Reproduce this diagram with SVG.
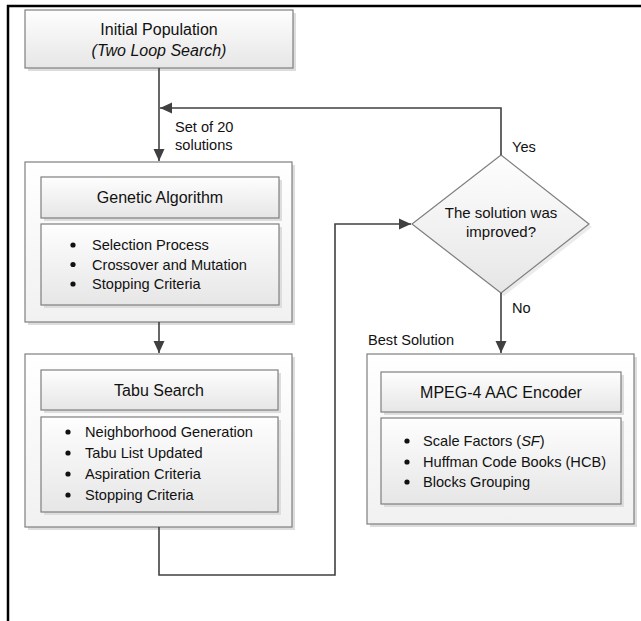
<svg xmlns="http://www.w3.org/2000/svg" width="641" height="621" viewBox="0 0 641 621">
<style>
  text { font-family: "Liberation Sans", Arial, sans-serif; fill: #111; }
  .h { font-size: 16px; text-anchor: middle; }
  .l { font-size: 14.6px; }
  .c { font-size: 15px; text-anchor: middle; }
  .outer { fill: url(#gOuter); stroke: #7f7f7f; stroke-width: 1.2; }
  .inner { fill: url(#gInner); stroke: #7f7f7f; stroke-width: 1.2; }
  .shadow { fill: #dddddd; }
  .conn { fill: none; stroke: #404040; stroke-width: 1.6; }
  .dot { fill: #111; }
</style>
<defs>
  <linearGradient id="gOuter" x1="0" y1="0" x2="0" y2="1">
    <stop offset="0" stop-color="#ffffff"/>
    <stop offset="1" stop-color="#f1f1f1"/>
  </linearGradient>
  <linearGradient id="gInner" x1="0" y1="0" x2="0" y2="1">
    <stop offset="0" stop-color="#fefefe"/>
    <stop offset="1" stop-color="#e6e6e6"/>
  </linearGradient>
  <marker id="arr" markerUnits="userSpaceOnUse" markerWidth="14" markerHeight="14" viewBox="0 0 14 14" refX="13" refY="7" orient="auto">
    <path d="M1,1.5 L13,7 L1,12.5 Z" fill="#404040"/>
  </marker>
</defs>

<path d="M8,621 V6 H641" fill="none" stroke="#000" stroke-width="2.5"/>

<g id="initial">
  <rect class="shadow" x="28" y="13" width="268" height="58"/>
  <rect class="inner" x="25" y="10" width="268" height="58"/>
  <text class="h" x="159" y="35">Initial Population</text>
  <text class="h" x="159" y="56" font-style="italic">(Two Loop Search)</text>
</g>

<g id="ga">
  <rect class="shadow" x="28" y="165" width="267" height="160"/>
  <rect class="outer" x="25" y="162" width="267" height="160"/>
  <rect class="shadow" x="44" y="180" width="238" height="41"/>
  <rect class="inner" x="41" y="177" width="238" height="41"/>
  <text class="h" x="160" y="203">Genetic Algorithm</text>
  <rect class="shadow" x="44" y="227" width="238" height="81"/>
  <rect class="inner" x="41" y="224" width="238" height="81"/>
  <circle class="dot" cx="73" cy="245" r="2.6"/>
  <circle class="dot" cx="73" cy="264.5" r="2.6"/>
  <circle class="dot" cx="73" cy="284" r="2.6"/>
  <text class="l" x="92" y="250">Selection Process</text>
  <text class="l" x="92" y="269.5">Crossover and Mutation</text>
  <text class="l" x="92" y="289">Stopping Criteria</text>
</g>

<g id="tabu">
  <rect class="shadow" x="28" y="357" width="267" height="173"/>
  <rect class="outer" x="25" y="354" width="267" height="173"/>
  <rect class="shadow" x="44" y="373" width="237" height="40"/>
  <rect class="inner" x="41" y="370" width="237" height="40"/>
  <text class="h" x="159" y="396">Tabu Search</text>
  <rect class="shadow" x="44" y="420" width="237" height="95"/>
  <rect class="inner" x="41" y="417" width="237" height="95"/>
  <circle class="dot" cx="68" cy="432" r="2.6"/>
  <circle class="dot" cx="68" cy="453" r="2.6"/>
  <circle class="dot" cx="68" cy="474" r="2.6"/>
  <circle class="dot" cx="68" cy="495" r="2.6"/>
  <text class="l" x="85" y="437">Neighborhood Generation</text>
  <text class="l" x="85" y="458">Tabu List Updated</text>
  <text class="l" x="85" y="479">Aspiration Criteria</text>
  <text class="l" x="85" y="500">Stopping Criteria</text>
</g>

<g id="decision">
  <path d="M504,158 L592,227 L504,296 L415,227 Z" class="shadow" opacity="0.6"/>
  <path d="M501,155 L589,224 L501,293 L412,224 Z" class="inner"/>
  <text class="c" x="501" y="218">The solution was</text>
  <text class="c" x="501" y="237">improved?</text>
</g>

<g id="encoder">
  <rect class="shadow" x="370" y="357" width="267" height="170"/>
  <rect class="outer" x="367" y="354" width="267" height="170"/>
  <rect class="shadow" x="384" y="375" width="240" height="40"/>
  <rect class="inner" x="381" y="372" width="240" height="40"/>
  <text class="h" x="501" y="398">MPEG-4 AAC Encoder</text>
  <rect class="shadow" x="384" y="421" width="240" height="86"/>
  <rect class="inner" x="381" y="418" width="240" height="86"/>
  <circle class="dot" cx="407" cy="441" r="2.6"/>
  <circle class="dot" cx="407" cy="462" r="2.6"/>
  <circle class="dot" cx="407" cy="482" r="2.6"/>
  <text class="l" x="423" y="446">Scale Factors (<tspan font-style="italic">SF</tspan>)</text>
  <text class="l" x="423" y="467">Huffman Code Books (HCB)</text>
  <text class="l" x="423" y="487">Blocks Grouping</text>
</g>

<g id="connectors">
  <path class="conn" d="M159,68 V161" marker-end="url(#arr)"/>
  <path class="conn" d="M501,155 V108 H160" marker-end="url(#arr)"/>
  <path class="conn" d="M159,322 V353" marker-end="url(#arr)"/>
  <path class="conn" d="M159,527 V575 H335 V224 H411" marker-end="url(#arr)"/>
  <path class="conn" d="M501,293 V353" marker-end="url(#arr)"/>
  <text class="l" x="175" y="132">Set of 20</text>
  <text class="l" x="175" y="150">solutions</text>
  <text class="l" x="512" y="152">Yes</text>
  <text class="l" x="512" y="313">No</text>
  <text class="l" x="368" y="345">Best Solution</text>
</g>
</svg>
